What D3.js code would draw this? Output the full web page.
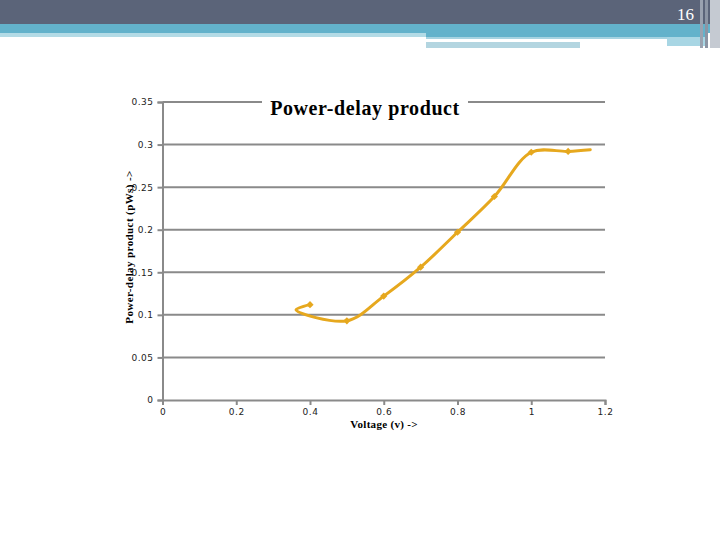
<!DOCTYPE html>
<html>
<head>
<meta charset="utf-8">
<script src="https://cdn.jsdelivr.net/npm/d3@7"></script>
<style>
  body { margin: 0; background: #fff; }
</style>
</head>
<body>
<div class="chart__container"></div>
<script>
// values
const voltage = [0.4, 0.5, 0.6, 0.7, 0.8, 0.9, 1.0, 1.1];
const pdp = [0.112, 0.093, 0.122, 0.156, 0.197, 0.239, 0.291, 0.292];

// the smoothed line loops back left of the first point and runs past the last one
const curveX = [0.4, 0.362, 0.5, 0.6, 0.7, 0.8, 0.9, 1.0, 1.1, 1.16];
const curveY = [0.112, 0.106, 0.093, 0.122, 0.156, 0.197, 0.239, 0.291, 0.292, 0.294];

const xTicks = [0, 0.2, 0.4, 0.6, 0.8, 1, 1.2];
const yTicks = [0, 0.05, 0.1, 0.15, 0.2, 0.25, 0.3, 0.35];

const title = "Power-delay product";
const xTitle = "Voltage (v) ->";
const yTitle = "Power-delay product (pWs) ->";
const slideNumber = "16";

const width = 720, height = 540;
const lineColor = "#e6a81e";
const gridColor = "#8a8a8a";

const svg = d3.select(".chart__container")
  .append("svg")
  .attr("width", width)
  .attr("height", height);

// slide header bands
const header = svg.append("g");
header.append("rect").attr("x", 0).attr("y", 0).attr("width", 720).attr("height", 24).attr("fill", "#5b6479");
header.append("rect").attr("x", 0).attr("y", 24).attr("width", 720).attr("height", 9).attr("fill", "#63b2cb");
header.append("rect").attr("x", 0).attr("y", 33).attr("width", 426).attr("height", 4).attr("fill", "#b3dbe6");
header.append("rect").attr("x", 426).attr("y", 33).attr("width", 280).attr("height", 4).attr("fill", "#63b2cb");
header.append("rect").attr("x", 426).attr("y", 37).attr("width", 241).attr("height", 2).attr("fill", "#a6d3e1");
header.append("rect").attr("x", 426).attr("y", 42).attr("width", 154).attr("height", 6).attr("fill", "#b3d5e0");
header.append("rect").attr("x", 667).attr("y", 37).attr("width", 40).attr("height", 9).attr("fill", "#a8d6e4");
header.append("rect").attr("x", 700).attr("y", 0).attr("width", 3).attr("height", 48).attr("fill", "#9aa2b0");
header.append("rect").attr("x", 705).attr("y", 0).attr("width", 3).attr("height", 48).attr("fill", "#8c95a4");
header.append("rect").attr("x", 710).attr("y", 0).attr("width", 10).attr("height", 48).attr("fill", "#c5cad2");
header.append("text")
  .attr("x", 694).attr("y", 20)
  .attr("text-anchor", "end")
  .attr("font-family", "Liberation Serif")
  .attr("font-size", 17)
  .attr("fill", "#fff")
  .text(slideNumber);

// plot area
const xScale = d3.scaleLinear().domain([0, 1.2]).range([162.5, 605]);
const yScale = d3.scaleLinear().domain([0, 0.35]).range([400, 102]);

const plot = svg.append("g");

// horizontal gridlines
plot.append("g")
  .selectAll("line")
  .data(yTicks.filter(d => d > 0))
  .enter()
  .append("line")
  .attr("x1", xScale(0))
  .attr("x2", xScale(1.2))
  .attr("y1", d => yScale(d))
  .attr("y2", d => yScale(d))
  .attr("stroke", gridColor)
  .attr("stroke-width", 2);

// y axis
const yAxis = plot.append("g")
  .attr("transform", `translate(${xScale(0)},0)`)
  .call(d3.axisLeft(yScale).tickValues(yTicks).tickSize(5).tickPadding(4)
    .tickFormat(d => d3.format("")(+d.toFixed(2))));

// x axis
const xAxis = plot.append("g")
  .attr("transform", `translate(0,${yScale(0)})`)
  .call(d3.axisBottom(xScale).tickValues(xTicks).tickSize(5).tickPadding(4)
    .tickFormat(d => d3.format("")(+d.toFixed(1))));

[yAxis, xAxis].forEach(ax => {
  ax.select(".domain").attr("stroke", gridColor).attr("stroke-width", 2);
  ax.selectAll(".tick line").attr("stroke", gridColor).attr("stroke-width", 2);
  ax.selectAll(".tick text")
    .attr("font-family", "DejaVu Sans")
    .attr("font-size", 9)
    .attr("letter-spacing", 0.5)
    .attr("fill", "#222");
});

// smoothed line
const pts = curveX.map((x, i) => ({ x, y: curveY[i] }));
const line = d3.line()
  .x(d => xScale(d.x))
  .y(d => yScale(d.y))
  .curve(d3.curveCatmullRom.alpha(0.5));

plot.append("path")
  .datum(pts)
  .attr("fill", "none")
  .attr("stroke", lineColor)
  .attr("stroke-width", 3)
  .attr("stroke-linejoin", "round")
  .attr("stroke-linecap", "round")
  .attr("d", line);

// markers: small rotated squares
plot.append("g")
  .selectAll("path")
  .data(voltage.map((v, i) => ({ x: v, y: pdp[i] })))
  .enter()
  .append("path")
  .attr("transform", d => `translate(${xScale(d.x)},${yScale(d.y)}) rotate(45)`)
  .attr("d", d3.symbol().type(d3.symbolSquare).size(26))
  .attr("fill", lineColor);

// title with white box hiding the top gridline
const titleG = svg.append("g");
titleG.append("rect")
  .attr("x", 262).attr("y", 94)
  .attr("width", 206).attr("height", 26)
  .attr("fill", "#fff");
titleG.append("text")
  .attr("x", 365).attr("y", 115)
  .attr("text-anchor", "middle")
  .attr("font-family", "Liberation Serif")
  .attr("font-weight", "bold")
  .attr("font-size", 20)
  .attr("letter-spacing", 0.6)
  .attr("fill", "#000")
  .text(title);

// axis titles
svg.append("text")
  .attr("x", 384).attr("y", 428)
  .attr("text-anchor", "middle")
  .attr("font-family", "Liberation Serif")
  .attr("font-weight", "bold")
  .attr("font-size", 11)
  .attr("letter-spacing", 0.3)
  .text(xTitle);

svg.append("text")
  .attr("transform", "translate(133,247) rotate(-90)")
  .attr("text-anchor", "middle")
  .attr("font-family", "Liberation Serif")
  .attr("font-weight", "bold")
  .attr("font-size", 11)
  .attr("letter-spacing", 0.4)
  .text(yTitle);
</script>
</body>
</html>
